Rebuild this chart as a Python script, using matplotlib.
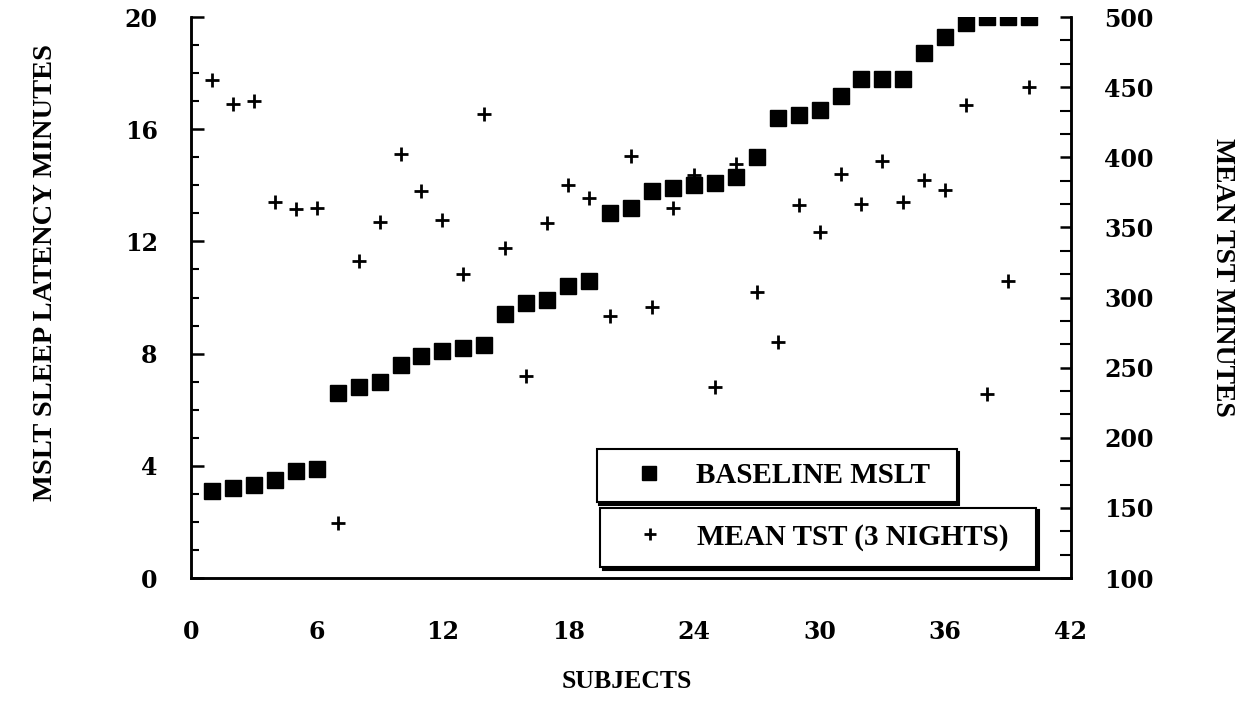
import matplotlib
matplotlib.use("Agg")
import matplotlib.pyplot as plt  # noqa: E402
from matplotlib.ticker import MultipleLocator  # noqa: E402

# subjects 1..40, sorted by baseline MSLT
subjects = list(range(1, 41))

baseline_mslt = [3.1, 3.2, 3.3, 3.5, 3.8, 3.9, 6.6, 6.8, 7.0, 7.6,
                 7.9, 8.1, 8.2, 8.3, 9.4, 9.8, 9.9, 10.4, 10.6, 13.0,
                 13.2, 13.8, 13.9, 14.0, 14.1, 14.3, 15.0, 16.4, 16.5, 16.7,
                 17.2, 17.8, 17.8, 17.8, 18.7, 19.3, 19.8, 20.0, 20.0, 20.0]

mean_tst = [455, 438, 440, 368, 363, 364, 139, 326, 354, 402,
            376, 355, 317, 431, 335, 244, 353, 380, 371, 287,
            401, 293, 364, 387, 236, 395, 304, 268, 366, 347,
            388, 367, 397, 368, 384, 377, 437, 231, 312, 450]

xticks = [0, 6, 12, 18, 24, 30, 36, 42]
left_ticks = [0, 4, 8, 12, 16, 20]
right_ticks = [100, 150, 200, 250, 300, 350, 400, 450, 500]

plt.rcParams["font.family"] = ["Liberation Serif", "DejaVu Serif"]
plt.rcParams["font.weight"] = "bold"
TICK_FONT = {"family": "DejaVu Serif", "weight": "bold", "size": 17}

fig = plt.figure(figsize=(12.41, 7.15), dpi=100)
ax = fig.add_axes([0.1539, 0.1916, 0.7091, 0.7846])
ax2 = ax.twinx()

sq, = ax.plot(subjects, baseline_mslt, linestyle="none", marker="s",
              markersize=11, color="black", label="BASELINE MSLT")
cr, = ax2.plot(subjects, mean_tst, linestyle="none", marker="+",
               markersize=10, markeredgewidth=2, color="black",
               label="MEAN TST (3 NIGHTS)")

ax.set_xlim(0, 42)
ax.set_ylim(0, 20)
ax2.set_ylim(100, 500)

ax.set_xticks(xticks)
ax.set_yticks(left_ticks)
ax.yaxis.set_minor_locator(MultipleLocator(1))
ax2.set_yticks(right_ticks)
ax2.yaxis.set_minor_locator(MultipleLocator(50 / 3))

for a in (ax, ax2):
    a.spines["top"].set_visible(False)
    for s in a.spines.values():
        s.set_linewidth(1.8)

ax.tick_params(axis="y", which="major", direction="in", length=9, width=1.8,
               pad=24)
ax.tick_params(axis="y", which="minor", direction="in", length=6, width=1.5)
ax.tick_params(axis="x", which="major", direction="in", length=0, pad=30)
ax2.tick_params(axis="y", which="major", direction="in", length=8, width=1.8,
                pad=24)
ax2.tick_params(axis="y", which="minor", direction="in", length=8, width=1.5)
for lbl in ax.get_xticklabels() + ax.get_yticklabels() + ax2.get_yticklabels():
    lbl.set_fontfamily(TICK_FONT["family"])
    lbl.set_fontweight(TICK_FONT["weight"])
    lbl.set_fontsize(TICK_FONT["size"])

fig.text(46 / 1241, 1 - 272 / 715, "MSLT SLEEP LATENCY MINUTES", rotation=90,
         ha="center", va="center", fontsize=20.5)
fig.text(1223 / 1241, 1 - 277 / 715, "MEAN TST MINUTES", rotation=-90,
         ha="center", va="center", fontsize=20)
fig.text(627 / 1241, 1 - 681 / 715, "SUBJECTS", ha="center", va="center",
         fontsize=18.5)

shadow = {"color": "black", "alpha": 1.0}
leg1 = ax.legend(handles=[sq], loc="lower left",
                 bbox_to_anchor=(0.461, 0.1355, 0.409, 0.09), mode="expand",
                 borderaxespad=0, fontsize=21, frameon=True, fancybox=False,
                 shadow=shadow, handlelength=2.67, handletextpad=0.27,
                 borderpad=0.45, markerscale=0.9)
leg1.get_frame().set_edgecolor("black")
leg1.get_frame().set_linewidth(1.5)
ax.add_artist(leg1)

leg2 = ax.legend(handles=[cr], loc="lower left",
                 bbox_to_anchor=(0.465, 0.0196, 0.495, 0.098), mode="expand",
                 borderaxespad=0, fontsize=21, frameon=True, fancybox=False,
                 shadow=shadow, handlelength=2.33, handletextpad=0.45,
                 borderpad=0.55, markerscale=0.8)
leg2.get_frame().set_edgecolor("black")
leg2.get_frame().set_linewidth(1.5)

fig.savefig("out.png", dpi=100)
